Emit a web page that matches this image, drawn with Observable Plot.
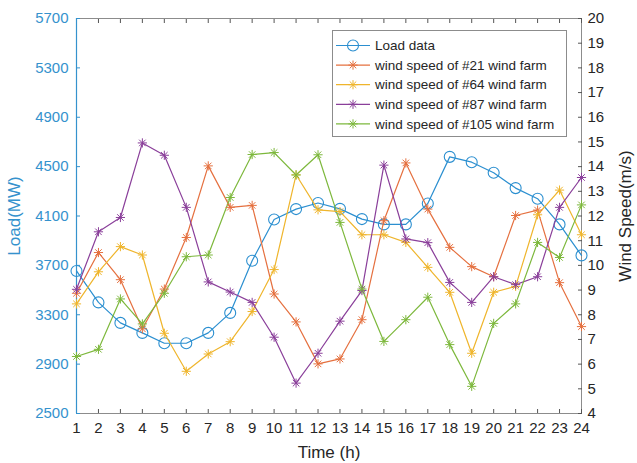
<!DOCTYPE html>
<html><head><meta charset="utf-8">
<script src="https://cdn.jsdelivr.net/npm/d3@7"></script>
<script src="https://cdn.jsdelivr.net/npm/@observablehq/plot@0.6"></script>
<style>body{margin:0;background:#fff;} #chart{width:637px;height:463px;}</style>
</head><body><div id="chart"></div>
<script>
const hours = [1,2,3,4,5,6,7,8,9,10,11,12,13,14,15,16,17,18,19,20,21,22,23,24];
const loadMW = [3655,3400,3234,3153,3069,3069,3153,3315,3738,4072,4156,4205,4158,4075,4032,4032,4201,4579,4536,4450,4326,4240,4032,3781];
const wind21 = [8.87,10.52,9.42,7.43,9.04,11.13,14.03,12.35,12.43,8.84,7.71,6.01,6.21,7.80,11.81,14.15,12.28,10.73,9.95,9.54,12.02,12.24,9.30,7.52];
const wind64 = [8.44,9.74,10.76,10.42,7.25,5.71,6.41,6.91,8.13,9.83,13.67,12.25,12.18,11.24,11.24,10.93,9.92,8.91,6.44,8.91,9.15,12.05,13.05,11.24];
const wind87 = [9.03,11.36,11.94,14.96,14.46,12.35,9.33,8.92,8.50,7.09,5.23,6.44,7.74,8.98,14.06,11.07,10.92,9.31,8.50,9.54,9.22,9.54,12.35,13.56];
const wind105 = [6.31,6.60,8.64,7.63,8.87,10.35,10.42,12.75,14.49,14.57,13.66,14.48,11.74,9.04,6.92,7.80,8.71,6.79,5.10,7.65,8.44,10.93,10.32,12.45];
const loadTicks = [2500,2900,3300,3700,4100,4500,4900,5300,5700];
const windTicks = [4,5,6,7,8,9,10,11,12,13,14,15,16,17,18,19,20];
const seriesNames = ["Load data","wind speed of #21 wind farm","wind speed of #64 wind farm","wind speed of #87 wind farm","wind speed of #105 wind farm"];
const seriesColors = ["#2b8fd0","#e5703f","#efb52c","#8a3f9a","#7db83c"];
const axisBlue = "#3592cd";

// map wind speed (right axis 4..20) onto the load scale (2500..5700)
const toLoad = w => 2500 + (w - 4) * 200;
const fromLoad = v => Math.round((v - 2500) / 200 + 4);

const windSeries = [wind21, wind64, wind87, wind105];
const windRows = [];
windSeries.forEach((arr, si) => arr.forEach((w, i) => windRows.push({hour: hours[i], v: toLoad(w), s: seriesNames[si + 1]})));
const loadRows = loadMW.map((v, i) => ({hour: hours[i], v, s: seriesNames[0]}));

const asterisk8 = {
  draw(ctx, size) {
    const r = Math.sqrt(size / Math.PI), d = r * Math.SQRT1_2;
    ctx.moveTo(-r, 0); ctx.lineTo(r, 0);
    ctx.moveTo(0, -r); ctx.lineTo(0, r);
    ctx.moveTo(-d, -d); ctx.lineTo(d, d);
    ctx.moveTo(-d, d); ctx.lineTo(d, -d);
  }
};

const colorOf = name => seriesColors[seriesNames.indexOf(name)];
const blank = () => "";

const svg = Plot.plot({
  width: 637, height: 463,
  marginLeft: 76, marginRight: 56, marginTop: 18, marginBottom: 50,
  style: {fontFamily: "Liberation Sans, Arial, sans-serif", fontSize: "15px", background: "white"},
  x: {domain: [1, 24]},
  y: {domain: [2500, 5700]},
  marks: [
    Plot.frame({stroke: "#8c8c8c"}),
    Plot.axisX(hours, {anchor: "bottom", tickSize: -4, tickFormat: blank, label: null, color: "#555"}),
    Plot.axisX(hours, {anchor: "top", tickSize: -4, tickFormat: blank, label: null, color: "#555"}),
    Plot.axisX(hours, {anchor: "bottom", tickSize: 0, tickPadding: 9, label: null, color: "#262626"}),
    Plot.axisX(hours, {anchor: "bottom", tickSize: 0, tickFormat: blank, label: "Time (h)", labelAnchor: "center", labelArrow: "none", labelOffset: 44, fontSize: 17, color: "#262626"}),
    Plot.axisY(loadTicks, {anchor: "left", tickSize: -4, tickFormat: blank, label: null, color: axisBlue}),
    Plot.axisY(loadTicks, {anchor: "left", tickSize: 0, tickPadding: 8, tickFormat: d3.format("d"), label: null, color: axisBlue}),
    Plot.axisY(loadTicks, {anchor: "left", tickSize: 0, tickFormat: blank, label: "Load(MW)", labelAnchor: "center", labelArrow: "none", labelOffset: 69, fontSize: 17, color: axisBlue}),
    Plot.axisY(windTicks.map(toLoad), {anchor: "right", tickSize: -4, tickFormat: blank, label: null, color: "#555"}),
    Plot.axisY(windTicks.map(toLoad), {anchor: "right", tickSize: 0, tickPadding: 6, tickFormat: v => String(fromLoad(v)), label: null, color: "#262626"}),
    Plot.axisY(windTicks.map(toLoad), {anchor: "right", tickSize: 0, tickFormat: blank, label: "Wind Speed(m/s)", labelAnchor: "center", labelArrow: "none", labelOffset: 49, fontSize: 17, color: "#262626"}),
    Plot.ruleX([1], {stroke: axisBlue, strokeWidth: 1.2}),
    Plot.line(loadRows, {x: "hour", y: "v", stroke: colorOf(seriesNames[0]), strokeWidth: 1.2}),
    Plot.dot(loadRows, {x: "hour", y: "v", r: 5.5, stroke: colorOf(seriesNames[0]), fill: "none", strokeWidth: 1.1}),
    ...seriesNames.slice(1).map(name => Plot.line(windRows.filter(d => d.s === name), {x: "hour", y: "v", stroke: colorOf(name), strokeWidth: 1.2})),
    ...seriesNames.slice(1).map(name => Plot.dot(windRows.filter(d => d.s === name), {x: "hour", y: "v", r: 4.6, symbol: asterisk8, stroke: colorOf(name), fill: "none", strokeWidth: 1}))
  ]
});

// legend (MATLAB style box)
const g = d3.select(svg).append("g").attr("font-family", "Liberation Sans, Arial, sans-serif").attr("font-size", "13.5px").attr("text-anchor", "start");
g.append("rect").attr("x", 332.5).attr("y", 30.5).attr("width", 234).attr("height", 106).attr("fill", "white").attr("stroke", "#8c8c8c");
seriesNames.forEach((name, i) => {
  const y = 45.5 + i * 19.6;
  const c = seriesColors[i];
  g.append("line").attr("x1", 336).attr("x2", 370).attr("y1", y).attr("y2", y).attr("stroke", c).attr("stroke-width", 1.2);
  if (i === 0) {
    g.append("circle").attr("cx", 353).attr("cy", y).attr("r", 5.5).attr("fill", "none").attr("stroke", c).attr("stroke-width", 1.1);
  } else {
    g.append("path").attr("transform", `translate(353,${y})`).attr("d", d3.symbol(asterisk8, Math.PI * 4.6 * 4.6)()).attr("fill", "none").attr("stroke", c);
  }
  g.append("text").attr("x", 375).attr("y", y).attr("dy", "0.35em").attr("text-anchor", "start").attr("fill", "#262626").text(name);
});

document.getElementById("chart").appendChild(svg);
</script>
</body></html>
